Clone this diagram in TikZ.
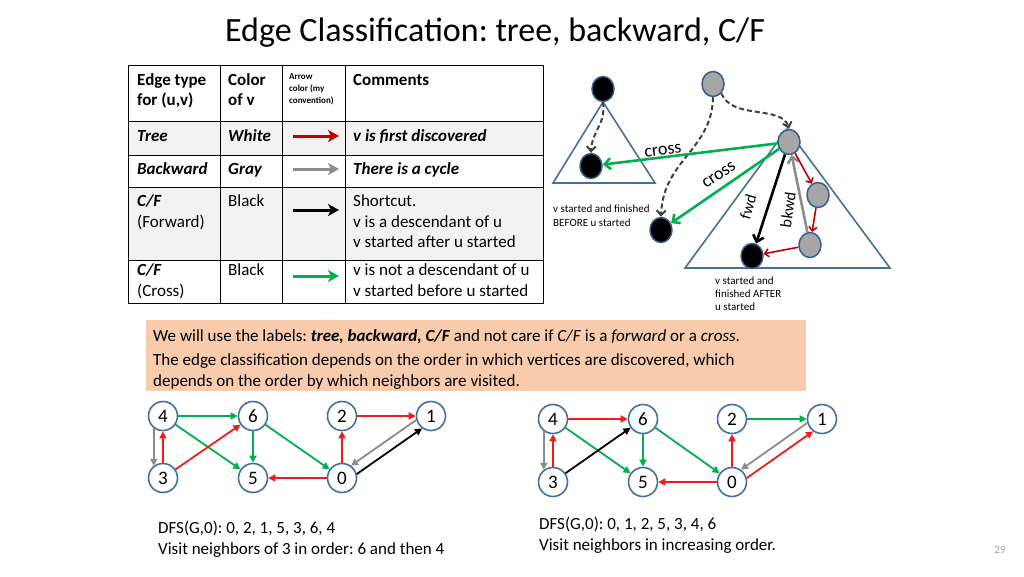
\documentclass[tikz,border=0pt]{standalone}
\usepackage{fontspec}
\setmainfont{Carlito}
\frenchspacing
\usetikzlibrary{arrows.meta,calc,shapes.geometric}
\definecolor{tred}{HTML}{C00000}
\definecolor{gred}{HTML}{EE1C1C}
\definecolor{ggreen}{HTML}{00B050}
\definecolor{ggray}{HTML}{8C8C8C}
\definecolor{nblue}{HTML}{41719C}
\definecolor{cblue}{HTML}{385D8A}
\definecolor{rowgray}{HTML}{F2F2F2}
\definecolor{peach}{HTML}{F8CBAD}
\definecolor{cgray}{HTML}{A6A6A6}
\definecolor{dgray}{HTML}{404040}
\definecolor{pgnum}{HTML}{A0A0A0}
\newcommand\fsz[2]{\fontsize{#1}{#2}\selectfont}
\begin{document}
\begin{tikzpicture}[x=1pt,y=-1pt,
  txt/.style={inner sep=0pt,anchor=base west,font=\fsz{17}{20}},
  small/.style={inner sep=0pt,anchor=base west,font=\fsz{11}{13}},
  tline/.style={draw=black,line width=0.9pt},
  tarrow/.style={line width=3pt,-{Stealth[length=11pt,width=12pt,inset=3pt]}},
  tri/.style={draw=nblue,line width=1.6pt},
  bnode/.style={ellipse,draw=cblue,line width=1.5pt,fill=black,minimum width=22pt,minimum height=25pt,inner sep=0pt},
  gnode/.style={ellipse,draw=cblue,line width=1.5pt,fill=cgray,minimum width=22pt,minimum height=25pt,inner sep=0pt},
  dash arr/.style={draw=dgray,line width=2pt,dash pattern=on 5pt off 3pt,-{Straight Barb[length=5pt,width=9pt]}},
  big arr/.style={line width=2.6pt,-{Straight Barb[length=6pt,width=11pt]}},
  red arr/.style={draw=tred,line width=1.6pt,-{Straight Barb[length=4pt,width=8pt]}},
  lbl/.style={inner sep=0pt,font=\fsz{18}{18}},
  vnode/.style={circle,draw=nblue,line width=1.6pt,fill=white,minimum size=29pt,inner sep=0pt,font=\fsz{19}{19}},
  ge/.style={line width=1.8pt,-{Triangle[length=7pt,width=7pt]}},
  ger/.style={ge,draw=gred},
  geg/.style={ge,draw=ggreen},
  gey/.style={ge,draw=ggray},
  gek/.style={ge,draw=black}
]
\useasboundingbox (0,0) rectangle (1024,576);

% title
\node[inner sep=0pt,anchor=base,font=\fsz{34}{34}] (title) at (495,41) {Edge Classification: tree, backward, C/F};

% ---------- table ----------
\fill[rowgray] (128,121) rectangle (543,155);
\fill[rowgray] (128,187) rectangle (543,260);
\draw[tline] (128,65) rectangle (543,303);
\foreach \yy in {121,155,187,260} {\draw[tline] (128,\yy) -- (543,\yy);}
\foreach \xx in {220,282,345} {\draw[tline] (\xx,65) -- (\xx,303);}

\node[txt] (h1a) at (137,85) {\bfseries Edge type};
\node[txt] (h1b) at (137,105) {\bfseries for (u,v)};
\node[txt] (h2a) at (228,85) {\bfseries Color};
\node[txt] (h2b) at (228,105) {\bfseries of v};
\node[inner sep=0pt,anchor=base west,font=\fsz{9}{9}\bfseries] (h3a) at (289,79) {Arrow};
\node[inner sep=0pt,anchor=base west,font=\fsz{9}{9}\bfseries] (h3b) at (289,91) {color (my};
\node[inner sep=0pt,anchor=base west,font=\fsz{9}{9}\bfseries] (h3c) at (289,103) {convention)};
\node[txt] (h4) at (353,85) {\bfseries Comments};

\node[txt] (r1a) at (137,141) {\bfseries\itshape Tree};
\node[txt] (r1b) at (228,141) {\bfseries\itshape White};
\node[txt] (r1c) at (353,141) {\bfseries\itshape v is first discovered};

\node[txt] (r2a) at (137,174) {\bfseries\itshape Backward};
\node[txt] (r2b) at (228,174) {\bfseries\itshape Gray};
\node[txt] (r2c) at (353,174) {\bfseries\itshape There is a cycle};

\node[txt] (r3a) at (137,206) {\bfseries\itshape C/F};
\node[txt] (r3a2) at (137,227) {(Forward)};
\node[txt] (r3b) at (228,206) {Black};
\node[txt] (r3c) at (353,206) {Shortcut.};
\node[txt] (r3c2) at (353,227) {v is a descendant of u};
\node[txt] (r3c3) at (353,247) {v started after u started};

\node[txt] (r4a) at (137,275) {\bfseries\itshape C/F};
\node[txt] (r4a2) at (137,296) {(Cross)};
\node[txt] (r4b) at (228,275) {Black};
\node[txt] (r4c) at (353,275) {v is not a descendant of u};
\node[txt] (r4c2) at (353,296) {v started before u started};

\coordinate (a1s) at (293,136); \coordinate (a1e) at (339,136);
\coordinate (a2s) at (293,169); \coordinate (a2e) at (339,169);
\coordinate (a3s) at (293,210); \coordinate (a3e) at (339,210);
\coordinate (a4s) at (293,276); \coordinate (a4e) at (339,276);
\draw[tarrow,draw=tred,fill=tred] (a1s) -- (a1e);
\draw[tarrow,draw=ggray,fill=ggray] (a2s) -- (a2e);
\draw[tarrow,draw=black,fill=black] (a3s) -- (a3e);
\draw[tarrow,draw=ggreen,fill=ggreen] (a4s) -- (a4e);

% ---------- tree diagram ----------
\draw[tri] (603,102) -- (553,183) -- (655,183) -- cycle;
\draw[tri] (787,129) -- (685,268) -- (890,268) -- cycle;

\node[bnode] (tb1) at (603,89) {};
\node[bnode] (tb2) at (591,166) {};
\node[gnode] (g1) at (713,84) {};
\node[gnode] (u) at (789,142) {};
\node[bnode] (vb) at (661,230) {};
\node[gnode] (q1) at (818,195) {};
\node[gnode] (q2) at (810,245) {};
\node[bnode] (fb) at (752,256) {};

\draw[dash arr] (tb1.south) .. controls (606,125) and (592,130) .. (tb2.north);
\draw[dash arr] (g1.south east) .. controls (732,120) and (782,105) .. (u.north);
\draw[dash arr] (g1.south) .. controls (712,150) and (663,160) .. (vb.north);

\draw[big arr,draw=ggreen] (u) -- (tb2);
\draw[big arr,draw=ggreen] (u) -- (vb);
\draw[big arr,draw=black] (u) -- (fb);
\draw[big arr,draw=ggray] (q2) -- (u);
\draw[red arr] (u) -- (q1);
\draw[red arr] (q1) -- (q2);
\draw[red arr] (q2) -- (fb);

\node[lbl,rotate=7] (c1) at (663,151) {cross};
\node[lbl,rotate=34] (c2) at (719,175) {cross};
\node[inner sep=0pt,font=\fsz{16}{16},rotate=74] (fw) at (748,207) {fwd};
\node[inner sep=0pt,font=\fsz{16}{16},rotate=82] (bk) at (788,210) {bkwd};

\node[small] (n1a) at (553,212) {v started and finished};
\node[small] (n1b) at (553,226) {BEFORE u started};
\node[small] (n2a) at (715,284) {v started and};
\node[small] (n2b) at (715,297) {finished AFTER};
\node[small] (n2c) at (715,310) {u started};

% ---------- note box ----------
\fill[peach] (146,320) rectangle (806,391);
\node[txt] (b1) at (153,341) {We will use the labels: \textbf{\textit{tree, backward, C/F}} and not care if \textit{C/F} is a \textit{forward} or a \textit{cross}.};
\node[txt] (b2) at (153,365) {The edge classification depends on the order in which vertices are discovered, which};
\node[txt] (b3) at (153,386) {depends on the order by which neighbors are visited.};

% ---------- left graph ----------
\node[vnode] (n4) at (163,416) {4};
\node[vnode] (n6) at (253,416) {6};
\node[vnode] (n2) at (342,416) {2};
\node[vnode] (n1) at (431,416) {1};
\node[vnode] (n3) at (163,478) {3};
\node[vnode] (n5) at (253,478) {5};
\node[vnode] (n0) at (342,478) {0};

\draw[geg] (n4) -- (n6);
\draw[geg] (n4) -- (n5);
\draw[gey] (n4.233) -- (n3.127);
\draw[ger] (n3) -- (n4);
\draw[ger] (n3) -- (n6);
\draw[geg] (n6) -- (n5);
\draw[geg] (n6) -- (n0);
\draw[ger] (n0) -- (n5);
\draw[ger] (n0) -- (n2);
\draw[ger] (n2) -- (n1);
\draw[gey] (n1.195) -- (n0.54);
\draw[gek] (n0.15) -- (n1.234);

% ---------- right graph ----------
\node[vnode] (m4) at (553,419) {4};
\node[vnode] (m6) at (643,419) {6};
\node[vnode] (m2) at (732,419) {2};
\node[vnode] (m1) at (822,419) {1};
\node[vnode] (m3) at (553,482) {3};
\node[vnode] (m5) at (643,482) {5};
\node[vnode] (m0) at (732,482) {0};

\draw[ger] (m4) -- (m6);
\draw[geg] (m4) -- (m5);
\draw[gey] (m4.233) -- (m3.127);
\draw[ger] (m3) -- (m4);
\draw[gek] (m3) -- (m6);
\draw[geg] (m6) -- (m5);
\draw[geg] (m6) -- (m0);
\draw[ger] (m0) -- (m5);
\draw[ger] (m0) -- (m2);
\draw[geg] (m2) -- (m1);
\draw[gey] (m1.195) -- (m0.54);
\draw[ger] (m0.15) -- (m1.234);

% ---------- bottom texts ----------
\node[txt] (d1) at (158,533) {DFS(G,0): 0, 2, 1, 5, 3, 6, 4};
\node[txt] (d2) at (158,554) {Visit neighbors of 3 in order: 6 and then 4};
\node[txt] (d3) at (539,529) {DFS(G,0): 0, 1, 2, 5, 3, 4, 6};
\node[txt] (d4) at (539,550) {Visit neighbors in increasing order.};
\node[inner sep=0pt,anchor=base,font=\fsz{11}{11},text=pgnum] (pg) at (1000,553) {29};
\end{tikzpicture}
\end{document}
